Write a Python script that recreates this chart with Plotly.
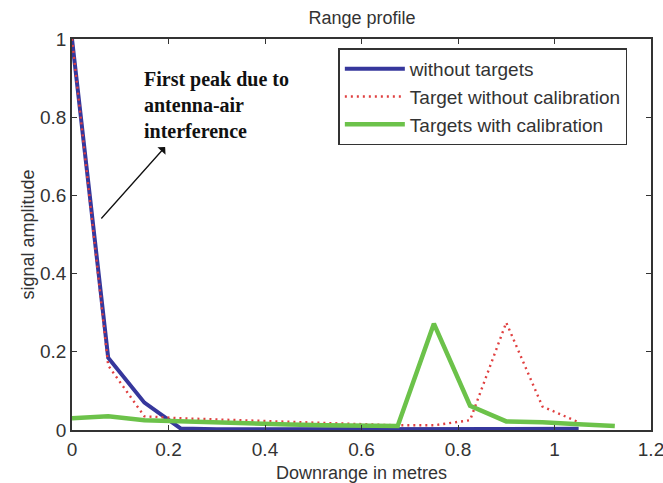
import plotly.graph_objects as go

# Downrange samples (metres)
downrange = [0, 0.075, 0.15, 0.225, 0.3, 0.375, 0.45, 0.525, 0.6, 0.675,
             0.75, 0.825, 0.9, 0.975, 1.05, 1.125]

# Signal amplitude of each profile
without_targets = [1.0, 0.185, 0.07, 0.004, 0.002, 0.002, 0.002, 0.002,
                   0.002, 0.003, 0.003, 0.003, 0.003, 0.003, 0.003]
target_no_calib = [1.0, 0.165, 0.035, 0.03, 0.027, 0.024, 0.021, 0.018,
                   0.015, 0.012, 0.012, 0.025, 0.275, 0.06, 0.02]
targets_calib = [0.03, 0.035, 0.025, 0.022, 0.018, 0.016, 0.014, 0.012,
                 0.011, 0.01, 0.272, 0.062, 0.022, 0.02, 0.015, 0.01]

x_ticks = [0, 0.2, 0.4, 0.6, 0.8, 1, 1.2]
x_tick_text = ["0", "0.2", "0.4", "0.6", "0.8", "1", "1.2"]
y_ticks = [0, 0.2, 0.4, 0.6, 0.8, 1]
y_tick_text = ["0", "0.2", "0.4", "0.6", "0.8", "1"]

SANS = "Liberation Sans, Arial"
INK = "#333333"

fig = go.Figure()
fig.add_trace(go.Scatter(
    x=downrange[:len(without_targets)], y=without_targets, mode="lines",
    name="without targets", legendgroup="a",
    line=dict(color="#36379c", width=4)))
fig.add_trace(go.Scatter(
    x=downrange[:len(target_no_calib)], y=target_no_calib, mode="lines",
    name="Target without calibration", legendgroup="b",
    line=dict(color="#e04040", width=2.4, dash="2px,4px")))
fig.add_trace(go.Scatter(
    x=downrange[:len(targets_calib)], y=targets_calib, mode="lines",
    name="Targets with calibration", legendgroup="c",
    line=dict(color="#6cc24a", width=4.5)))

axis_common = dict(
    showline=True, linecolor=INK, linewidth=1.5, mirror="ticks",
    ticks="inside", ticklen=5, tickcolor=INK, showgrid=False,
    zeroline=False, automargin=False, ticklabeloverflow="allow",
    tickfont=dict(family=SANS, size=19, color=INK),
)

fig.update_layout(
    width=663, height=483,
    margin=dict(l=72, r=12, t=39, b=53),
    paper_bgcolor="white", plot_bgcolor="white",
    title=dict(text="Range profile", x=0.546, xanchor="center", y=0.963, yanchor="middle",
               font=dict(family=SANS, size=18, color=INK)),
    xaxis=dict(range=[0, 1.2], tickvals=x_ticks, ticktext=x_tick_text,
               ticklabelstandoff=1,
               title=dict(text="Downrange in metres",
                          font=dict(family=SANS, size=18, color=INK)),
               **axis_common),
    yaxis=dict(range=[0, 1], tickvals=y_ticks, ticktext=y_tick_text,
               title=dict(text="signal amplitude", standoff=1,
                          font=dict(family=SANS, size=18, color=INK)),
               **axis_common),
    legend=dict(x=0.46, y=0.976, xanchor="left", yanchor="top",
                bgcolor="white", bordercolor=INK, borderwidth=1.5,
                tracegroupgap=0, itemwidth=60,
                font=dict(family=SANS, size=19, color=INK)),
    showlegend=True,
)

# Note on the first peak, with its arrow
fig.add_annotation(
    x=0.193, y=0.724, ax=0.058, ay=0.537, xref="x", yref="y", axref="x", ayref="y",
    text="", showarrow=True, arrowhead=1, arrowsize=1.4, arrowwidth=1.3, arrowcolor="#111111")
fig.add_annotation(
    x=0.145, y=0.932, xref="x", yref="y", xanchor="left", yanchor="top", align="left",
    showarrow=False,
    text="<b>First peak due to<br>antenna-air<br>interference</b>",
    font=dict(family="Liberation Serif, Times New Roman", size=20, color="#111111"))

fig.write_html("out.html")
